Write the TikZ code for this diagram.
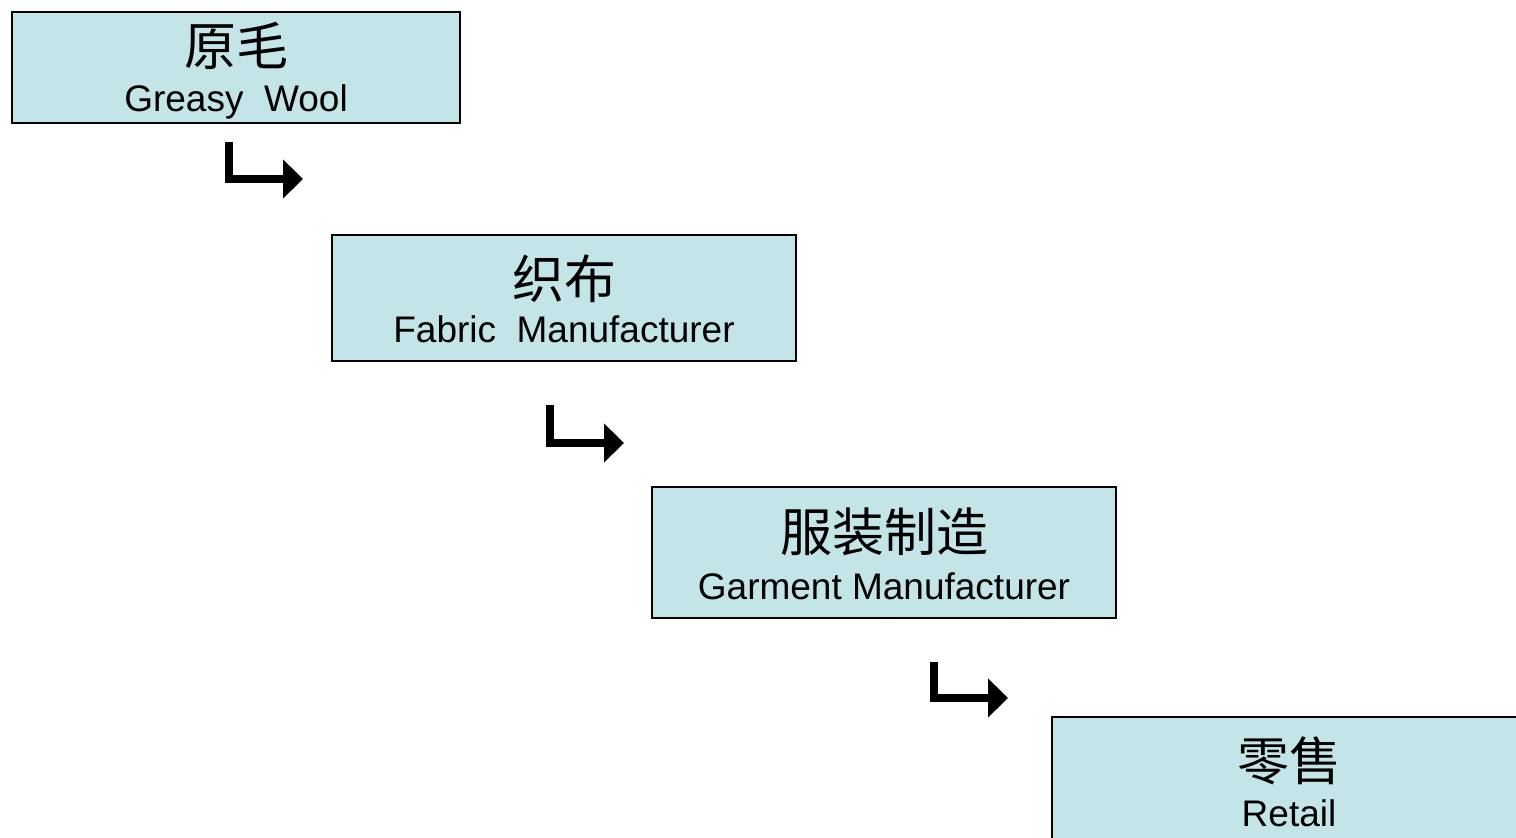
\documentclass[tikz,border=0pt]{standalone}
\usepackage{fontspec}
\setmainfont{Liberation Sans}
\newfontfamily\cjk{Noto Sans CJK SC}
\usetikzlibrary{arrows.meta}
\definecolor{boxfill}{RGB}{195,229,232}
\tikzset{
  box/.style={draw=black, line width=1pt, fill=boxfill, rectangle, inner sep=0pt},
  zh/.style={anchor=base, inner sep=0pt, font=\cjk\fontsize{26pt}{30pt}\selectfont},
  en/.style={anchor=base, inner sep=0pt, font=\fontsize{18.5pt}{22pt}\selectfont},
  flow/.style={line width=4pt, line join=miter, -{Triangle[length=10pt,width=19pt]}}
}
\begin{document}
\begin{tikzpicture}[x=0.5pt,y=-0.5pt]
\useasboundingbox (0,0) rectangle (1516,838);
\clip (0,0) rectangle (1516,838);
% boxes
\node[box, minimum width=224pt, minimum height=55.5pt] (b1) at (236,67.5) {};
\node[box, minimum width=232pt, minimum height=63pt] (b2) at (564,298) {};
\node[box, minimum width=232pt, minimum height=65.5pt] (b3) at (884,552.5) {};
\node[box, minimum width=237pt, minimum height=76.5pt] (b4) at (1289,793.5) {};
% texts
\node[zh] (z1) at (236,66) {原毛};
\node[en] (e1) at (236,112) {Greasy\ \ Wool};
\node[zh] (z2) at (564,299) {织布};
\node[en] (e2) at (564,343) {Fabric\ \ Manufacturer};
\node[zh] (z3) at (884,552) {服装制造};
\node[en] (e3) at (884,600) {Garment Manufacturer};
\node[zh] (z4) at (1289,781) {零售};
\node[en] (e4) at (1289,827) {Retail};
% arrows
\coordinate (a1s) at (228.5,142);
\coordinate (a1e) at (303,179);
\coordinate (a2s) at (549.5,405);
\coordinate (a2e) at (624,443);
\coordinate (a3s) at (934,662);
\coordinate (a3e) at (1008,698);
\draw[flow] (a1s) |- (a1e);
\draw[flow] (a2s) |- (a2e);
\draw[flow] (a3s) |- (a3e);
\end{tikzpicture}
\end{document}
